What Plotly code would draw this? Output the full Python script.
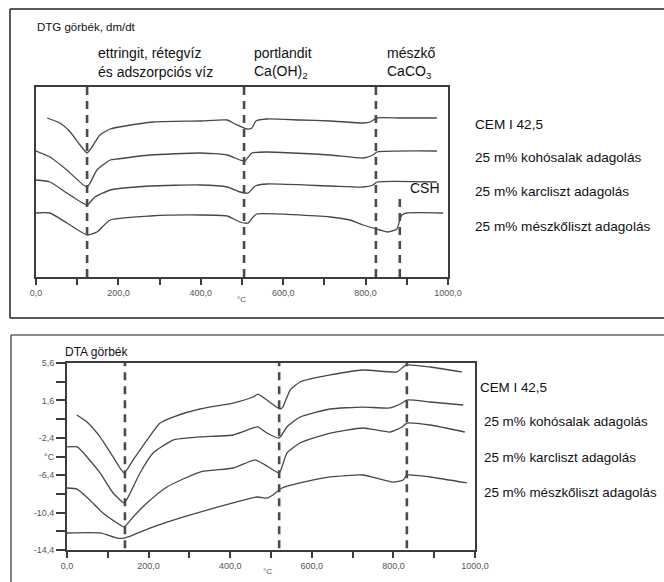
import plotly.graph_objects as go

W, H = 664, 582

# ---------------- DATA ----------------
# DTG curves (relative units, no scale shown)
dtg_cem_T = [27, 58, 83, 107, 124, 136, 155, 180, 216, 284, 398, 464, 483, 512, 524, 534, 561, 641, 714, 794, 811, 828, 883, 973]
dtg_cem_y = [15.9, 15.4, 14.5, 13.2, 12.4, 13.0, 14.2, 14.8, 15.1, 15.5, 15.6, 15.7, 15.3, 14.8, 14.9, 15.6, 15.8, 15.7, 15.6, 15.4, 15.5, 15.9, 15.9, 15.9]

dtg_koho_T = [0, 34, 75, 124, 148, 180, 197, 277, 398, 464, 495, 507, 524, 561, 714, 794, 818, 828, 973]
dtg_koho_y = [12.6, 12.0, 10.7, 9.0, 10.7, 11.7, 11.8, 12.2, 12.4, 12.2, 11.7, 11.6, 12.4, 12.5, 12.2, 11.9, 12.2, 12.5, 12.6]

dtg_karc_T = [0, 34, 75, 124, 136, 143, 180, 277, 398, 464, 495, 515, 532, 561, 714, 794, 818, 828, 973]
dtg_karc_y = [9.7, 9.5, 8.4, 7.2, 7.7, 8.0, 8.7, 9.1, 9.2, 9.0, 8.5, 8.4, 9.1, 9.3, 9.1, 9.0, 9.2, 9.5, 9.5]

dtg_mesz_T = [0, 34, 75, 124, 148, 180, 277, 398, 464, 495, 515, 527, 536, 714, 762, 794, 835, 854, 876, 883, 888, 900, 988]
dtg_mesz_y = [6.4, 6.4, 5.4, 4.2, 4.5, 5.7, 6.1, 6.2, 6.1, 5.5, 5.4, 6.0, 6.3, 6.0, 5.7, 5.2, 4.7, 4.5, 4.8, 5.7, 6.2, 6.4, 6.4]

# DTA curves (°C)
dta_cem_T = [24, 49, 81, 113, 140, 162, 196, 228, 260, 326, 407, 456, 468, 490, 522, 529, 547, 571, 645, 725, 809, 821, 833, 890, 968]
dta_cem_y = [0.04, -0.71, -2.31, -4.45, -6.16, -4.77, -2.64, -0.82, -0.18, 0.68, 1.32, 1.96, 2.28, 1.64, 0.68, 0.89, 2.71, 3.57, 4.32, 4.85, 4.64, 5.07, 5.39, 5.17, 4.64]

dta_koho_T = [0, 25, 49, 81, 113, 140, 150, 179, 211, 260, 326, 407, 456, 468, 490, 520, 539, 571, 645, 725, 792, 821, 833, 890, 971]
dta_koho_y = [-3.38, -3.38, -4.45, -6.16, -8.30, -9.37, -8.73, -6.16, -4.03, -2.64, -2.31, -2.10, -1.35, -1.24, -1.89, -2.42, -1.24, -0.18, 0.68, 0.89, 0.79, 1.32, 1.64, 1.43, 1.11]

dta_karc_T = [0, 25, 56, 88, 123, 140, 162, 196, 245, 326, 407, 461, 473, 490, 520, 539, 571, 645, 725, 792, 821, 833, 890, 975]
dta_karc_y = [-7.77, -7.88, -9.05, -10.44, -11.51, -11.93, -10.87, -9.37, -7.66, -6.06, -5.63, -4.77, -4.99, -5.42, -6.16, -4.03, -2.96, -1.89, -1.35, -1.78, -1.24, -0.82, -1.03, -1.78]

dta_mesz_T = [0, 81, 123, 140, 162, 203, 245, 326, 407, 466, 490, 505, 527, 571, 645, 725, 799, 824, 833, 890, 980]
dta_mesz_y = [-12.58, -12.58, -13.12, -13.12, -12.80, -12.05, -11.41, -10.34, -9.37, -8.73, -8.84, -8.52, -7.77, -7.23, -6.59, -6.38, -7.13, -6.91, -6.38, -6.59, -7.23]

series_labels = ["CEM I 42,5", "25 m% kohósalak adagolás", "25 m% karcliszt adagolás", "25 m% mészkőliszt adagolás"]

dtg_peaks_T = [124, 505, 825]
dtg_csh_T = 883
dta_peaks_T = [142, 520, 833]

x_tickvals = [0, 100, 200, 300, 400, 500, 600, 700, 800, 900, 1000]
x_ticktext = ["0,0", " ", "200,0", " ", "400,0", " ", "600,0", " ", "800,0", " ", "1000,0"]
dta_y_tickvals = [5.6, 3.6, 1.6, -0.4, -2.4, -4.4, -6.4, -8.4, -10.4, -12.4, -14.4]
dta_y_ticktext = ["5,6", " ", "1,6", " ", "-2,4", "°C", "-6,4", " ", "-10,4", " ", "-14,4"]

# ---------------- FIGURE ----------------
def pxx(x):
    return x / W

def pxy(y):
    return 1 - y / H

LINE = "#474747"
fig = go.Figure()

dtg = [(dtg_cem_T, dtg_cem_y), (dtg_koho_T, dtg_koho_y), (dtg_karc_T, dtg_karc_y), (dtg_mesz_T, dtg_mesz_y)]
dta = [(dta_cem_T, dta_cem_y), (dta_koho_T, dta_koho_y), (dta_karc_T, dta_karc_y), (dta_mesz_T, dta_mesz_y)]

for (t, y), name in zip(dtg, series_labels):
    fig.add_trace(go.Scatter(x=t, y=y, mode="lines", name=name, line=dict(color=LINE, width=1.3, shape="spline", smoothing=0.5),
                             xaxis="x", yaxis="y", showlegend=False))
for (t, y), name in zip(dta, series_labels):
    fig.add_trace(go.Scatter(x=t, y=y, mode="lines", name=name, line=dict(color=LINE, width=1.3, shape="spline", smoothing=0.5),
                             xaxis="x2", yaxis="y2", showlegend=False))

DASH = dict(color="#4a4a4a", width=2.6, dash="8px,6px")
shapes = []
for t in dtg_peaks_T:
    shapes.append(dict(type="line", xref="x", yref="y", x0=t, x1=t, y0=0, y1=19, line=DASH))
shapes.append(dict(type="line", xref="x", yref="y", x0=dtg_csh_T, x1=dtg_csh_T, y0=0, y1=7.8, line=DASH))
for t in dta_peaks_T:
    shapes.append(dict(type="line", xref="x2", yref="y2", x0=t, x1=t, y0=-14.2, y1=5.6, line=DASH))

# outer boxes
BOX = dict(color="#222222", width=1.5)
shapes += [
    dict(type="line", xref="paper", yref="paper", x0=pxx(10), x1=1.01, y0=pxy(9), y1=pxy(9), line=BOX),
    dict(type="line", xref="paper", yref="paper", x0=pxx(10), x1=pxx(10), y0=pxy(9), y1=pxy(318), line=BOX),
    dict(type="line", xref="paper", yref="paper", x0=pxx(10), x1=1.01, y0=pxy(318), y1=pxy(318), line=BOX),
    dict(type="line", xref="paper", yref="paper", x0=pxx(11), x1=1.01, y0=pxy(335), y1=pxy(335), line=dict(color="#666666", width=1.5)),
    dict(type="line", xref="paper", yref="paper", x0=pxx(11), x1=pxx(11), y0=pxy(335), y1=-0.01, line=dict(color="#333333", width=1.2)),
]

FONT = "Liberation Sans, Arial, sans-serif"
TXT = "#111111"
ann = []
def add(text, x, y, size, xanchor="left", yanchor="middle", color=TXT):
    ann.append(dict(text=text, x=pxx(x), y=pxy(y), xref="paper", yref="paper", showarrow=False,
                    xanchor=xanchor, yanchor=yanchor, font=dict(size=size, color=color, family=FONT)))

add("DTG görbék, dm/dt", 35, 27, 11.5)
add("ettringit, rétegvíz", 96, 53, 14)
add("és adszorpciós víz", 96, 72, 14)
add("portlandit", 252, 53, 14)
add("Ca(OH)<sub>2</sub>", 252, 72, 14)
add("mészkő", 385, 53, 14)
add("CaCO<sub>3</sub>", 385, 72, 14)
add("CSH", 408, 188, 14)
add("°C", 241, 299, 8, xanchor="center", color="#555555")

add("DTA görbék", 63, 352, 12)
add("°C", 267, 571, 8, xanchor="center", color="#555555")

dtg_label_pos = [(473, 124), (473, 158), (473, 192), (473, 227)]
dta_label_pos = [(478, 387), (482, 421), (482, 457), (482, 492)]
for name, (x, y) in zip(series_labels, dtg_label_pos):
    add(name, x, y, 13.6)
for name, (x, y) in zip(series_labels, dta_label_pos):
    add(name, x, y, 13.4)

TICKFONT = dict(size=9, color="#555555", family=FONT)
axis_common = dict(showgrid=False, zeroline=False, showline=True, mirror=True, linecolor="#3c3c3c", linewidth=2, automargin=False)

fig.update_layout(
    width=W, height=H, margin=dict(l=0, r=0, t=0, b=0, pad=0),
    paper_bgcolor="white", plot_bgcolor="white",
    xaxis=dict(domain=[pxx(36), pxx(448)], range=[0, 1000], anchor="y",
               tickmode="array", tickvals=x_tickvals, ticktext=x_ticktext,
               ticks="outside", ticklen=6, tickwidth=1.5, tickcolor="#3c3c3c", tickfont=TICKFONT, **axis_common),
    yaxis=dict(domain=[pxy(277), pxy(87)], range=[0, 19], anchor="x", showticklabels=False, ticks="", **axis_common),
    xaxis2=dict(domain=[pxx(67), pxx(475)], range=[0, 1000], anchor="y2",
                tickmode="array", tickvals=x_tickvals, ticktext=x_ticktext,
                ticks="outside", ticklen=6, tickwidth=1.5, tickcolor="#3c3c3c", tickfont=TICKFONT, **axis_common),
    yaxis2=dict(domain=[pxy(550), pxy(363)], range=[-14.4, 5.6], anchor="x2",
                tickmode="array", tickvals=dta_y_tickvals, ticktext=dta_y_ticktext,
                ticks="outside", ticklen=9, tickwidth=1.5, tickcolor="#3c3c3c", tickfont=TICKFONT, **axis_common),
    shapes=shapes, annotations=ann,
)

fig.write_html("out.html", config={"displayModeBar": False},
               post_script="document.body.style.margin='0';document.body.style.overflow='hidden';")
